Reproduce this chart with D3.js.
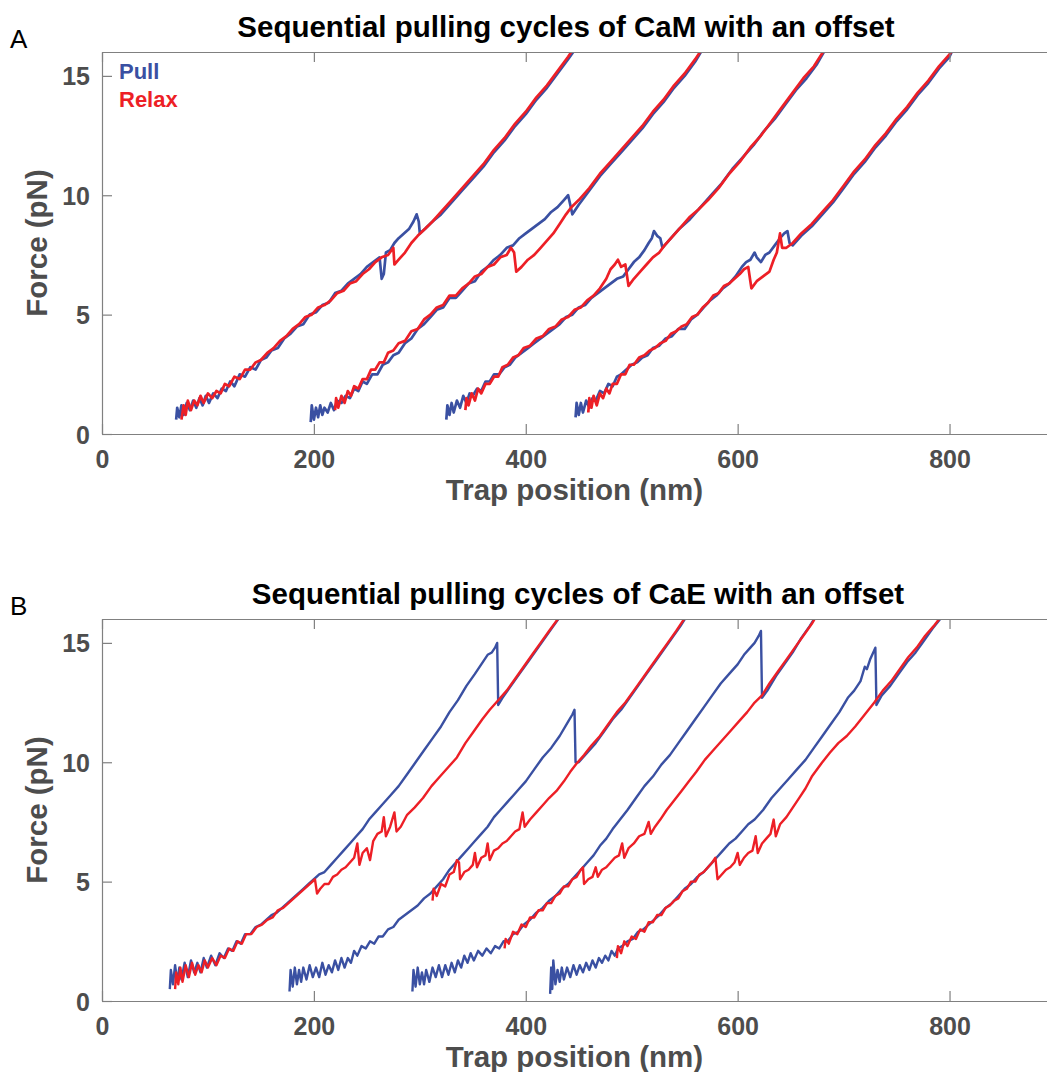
<!DOCTYPE html>
<html>
<head>
<meta charset="utf-8">
<script src="https://cdn.jsdelivr.net/npm/d3@7"></script>
<style>
body { margin: 0; background: #fff; }
svg { display: block; }
</style>
</head>
<body>
<div id="chart"></div>
<script>
// trap position (nm), force (pN)
var xTicks = [0, 200, 400, 600, 800];
var yTicks = [0, 5, 10, 15];
var legendLabels = ["Pull", "Relax"];
var panelTitles = ["Sequential pulling cycles of CaM with an offset", "Sequential pulling cycles of CaE with an offset"];
var panelLetters = ["A", "B"];

var camPull1 = [[70,0.6],[71,1.1],[73,0.7],[75,1.2],[77,0.8],[80,1.3],[83,1.0],[86,1.4],[89,1.1],[92,1.5],[95,1.2],[98,1.6],[101,1.3],[105,1.7],[109,1.5],[113,1.9],[117,1.8],[121,2.2],[125,2.0],[130,2.5],[135,2.4],[140,2.8],[145,2.7],[150,3.1],[155,3.2],[160,3.5],[166,3.6],[172,4.0],[178,4.2],[184,4.5],[190,4.6],[196,5.0],[202,5.1],[208,5.4],[214,5.5],[220,5.9],[226,6.0],[232,6.3],[238,6.5],[244,6.7],[250,7.0],[256,7.2],[262,7.4],[264,6.5],[266,6.7],[268,7.6],[272,7.7],[276,8.0],[280,8.2],[285,8.4],[290,8.6],[294,8.9],[297,9.2],[299,8.9],[300,8.4],[305,8.6],[312,8.9],[320,9.2],[330,9.7],[340,10.2],[350,10.7],[360,11.2],[370,11.8],[380,12.3],[390,12.9],[400,13.4],[410,14.0],[420,14.5],[430,15.1],[440,15.7],[448,16.2]];
var camRelax1 = [[75,0.6],[77,1.2],[79,0.8],[81,1.4],[84,1.0],[87,1.4],[90,1.2],[93,1.6],[96,1.3],[100,1.7],[104,1.5],[108,1.8],[112,1.7],[116,2.1],[120,2.0],[125,2.4],[130,2.3],[135,2.7],[140,2.7],[145,3.0],[150,3.1],[156,3.4],[162,3.6],[168,3.9],[174,4.1],[180,4.4],[186,4.6],[192,4.9],[198,5.0],[204,5.3],[210,5.4],[216,5.6],[222,5.9],[228,6.0],[234,6.3],[240,6.4],[246,6.7],[252,6.9],[258,7.2],[264,7.4],[270,7.5],[275,7.8],[276,7.1],[280,7.3],[286,7.6],[292,8.0],[298,8.3],[305,8.6],[312,8.9],[320,9.3],[330,9.8],[340,10.3],[350,10.8],[360,11.3],[370,11.9],[380,12.4],[390,13.0],[400,13.5],[410,14.1],[420,14.6],[430,15.2],[440,15.8],[446,16.2]];
var camPull2 = [[197,0.5],[198,1.2],[200,0.6],[202,1.1],[204,0.7],[206,1.2],[208,0.8],[210,1.1],[213,0.9],[216,1.3],[219,1.0],[222,1.4],[226,1.3],[230,1.6],[234,1.5],[238,1.9],[242,1.8],[246,2.2],[250,2.1],[255,2.5],[260,2.5],[265,2.9],[270,3.0],[275,3.3],[280,3.4],[286,3.8],[292,4.0],[298,4.4],[304,4.6],[310,4.9],[316,5.2],[322,5.3],[328,5.7],[334,5.7],[340,6.0],[346,6.3],[352,6.4],[358,6.8],[364,7.0],[370,7.3],[376,7.5],[382,7.8],[388,7.9],[394,8.2],[400,8.4],[406,8.6],[412,8.8],[418,9.0],[424,9.3],[430,9.5],[436,9.8],[440,10.0],[442,9.6],[444,9.2],[450,9.6],[460,10.2],[470,10.8],[480,11.3],[490,11.8],[500,12.3],[510,12.8],[520,13.4],[530,13.9],[540,14.5],[550,15.0],[560,15.6],[568,16.2]];
var camRelax2 = [[220,1.0],[221,1.5],[223,1.1],[226,1.6],[229,1.3],[232,1.8],[235,1.6],[238,2.0],[242,1.9],[246,2.3],[250,2.3],[254,2.7],[258,2.7],[262,3.0],[266,3.0],[270,3.4],[275,3.5],[280,3.8],[286,3.9],[292,4.3],[298,4.4],[304,4.8],[310,5.0],[316,5.3],[322,5.4],[328,5.8],[334,5.8],[340,6.1],[346,6.3],[352,6.6],[358,6.7],[364,7.0],[370,7.1],[376,7.4],[382,7.5],[386,7.8],[389,7.6],[391,6.8],[396,7.0],[402,7.3],[408,7.5],[414,7.8],[420,8.1],[426,8.4],[432,8.8],[438,9.2],[443,9.5],[450,9.8],[460,10.3],[470,10.9],[480,11.4],[490,11.9],[500,12.4],[510,12.9],[520,13.5],[530,14.0],[540,14.6],[550,15.1],[560,15.7],[566,16.1]];
var camPull3 = [[325,0.6],[326,1.2],[328,0.8],[330,1.3],[332,0.9],[335,1.4],[338,1.1],[341,1.6],[344,1.3],[347,1.7],[350,1.6],[354,1.9],[358,1.8],[362,2.2],[366,2.2],[370,2.5],[375,2.5],[380,2.8],[385,2.9],[390,3.2],[396,3.4],[402,3.6],[408,3.8],[414,4.0],[420,4.2],[426,4.4],[432,4.6],[438,4.9],[444,5.0],[450,5.3],[456,5.4],[462,5.7],[468,5.9],[474,6.1],[480,6.3],[486,6.5],[492,6.6],[497,6.9],[502,7.2],[507,7.4],[512,7.7],[516,8.0],[519,8.2],[521,8.5],[524,8.3],[527,8.2],[529,7.8],[535,8.1],[545,8.6],[555,9.0],[565,9.5],[575,10.0],[585,10.5],[595,11.1],[605,11.6],[615,12.1],[625,12.7],[635,13.2],[645,13.8],[655,14.4],[665,14.9],[675,15.5],[684,16.2]];
var camRelax3 = [[343,1.0],[344,1.5],[346,1.2],[349,1.7],[352,1.4],[355,1.9],[358,1.7],[362,2.1],[366,2.1],[370,2.4],[374,2.4],[378,2.8],[383,2.9],[388,3.2],[393,3.3],[398,3.6],[404,3.7],[410,4.0],[416,4.1],[422,4.4],[428,4.5],[434,4.8],[440,4.9],[446,5.2],[452,5.3],[458,5.6],[464,5.8],[470,6.1],[476,6.5],[480,6.9],[484,7.1],[487,7.3],[490,7.0],[494,7.1],[497,6.2],[502,6.5],[508,6.8],[514,7.1],[520,7.4],[526,7.6],[531,7.9],[539,8.3],[547,8.7],[555,9.1],[563,9.4],[572,9.8],[582,10.3],[592,10.9],[602,11.4],[612,12.0],[622,12.5],[632,13.1],[642,13.7],[652,14.3],[662,14.9],[672,15.4],[682,16.1]];
var camPull4 = [[447,0.7],[448,1.3],[450,0.8],[452,1.3],[454,0.9],[457,1.4],[460,1.1],[463,1.5],[466,1.4],[470,1.8],[474,1.7],[478,2.1],[482,2.0],[486,2.4],[490,2.5],[495,2.7],[500,2.9],[505,3.0],[510,3.2],[515,3.3],[520,3.6],[526,3.7],[532,4.0],[538,4.1],[544,4.4],[550,4.4],[556,4.8],[562,5.0],[568,5.3],[574,5.6],[580,5.8],[586,6.1],[592,6.3],[598,6.6],[604,7.0],[608,7.2],[612,7.3],[616,7.6],[618,7.4],[622,7.2],[626,7.5],[630,7.6],[635,7.9],[640,8.2],[644,8.4],[647,8.5],[649,8.0],[652,7.9],[660,8.3],[670,8.7],[680,9.2],[690,9.7],[700,10.3],[710,10.9],[720,11.4],[730,12.0],[740,12.5],[750,13.1],[760,13.6],[770,14.2],[780,14.7],[790,15.3],[800,15.8],[804,16.2]];
var camRelax4 = [[459,0.9],[460,1.5],[462,1.1],[464,1.6],[467,1.2],[470,1.7],[473,1.5],[476,1.9],[479,1.7],[482,2.1],[486,2.1],[490,2.5],[494,2.5],[498,2.9],[502,2.9],[507,3.2],[512,3.3],[517,3.5],[522,3.6],[527,3.8],[532,3.9],[537,4.2],[542,4.3],[547,4.5],[552,4.6],[557,4.9],[562,5.0],[567,5.3],[572,5.5],[577,5.8],[582,5.9],[587,6.2],[592,6.3],[597,6.5],[602,6.7],[606,6.9],[610,7.0],[612,6.4],[613,6.1],[618,6.4],[624,6.6],[630,6.8],[634,7.3],[637,7.6],[640,8.4],[642,7.8],[646,7.8],[652,8.0],[660,8.4],[670,8.8],[680,9.3],[690,9.8],[700,10.4],[710,11.0],[720,11.5],[730,12.1],[740,12.6],[750,13.2],[760,13.7],[770,14.3],[780,14.8],[790,15.4],[800,15.9],[803,16.1]];

var caePull1 = [[64,0.5],[65,1.3],[67,0.7],[69,1.5],[71,0.8],[73,1.4],[75,0.9],[78,1.6],[81,1.0],[84,1.7],[87,1.2],[90,1.6],[93,1.2],[96,1.8],[99,1.4],[103,1.9],[107,1.5],[111,2.0],[115,1.8],[119,2.2],[123,2.1],[127,2.5],[131,2.4],[135,2.8],[140,2.8],[145,3.1],[150,3.2],[155,3.4],[160,3.6],[165,3.7],[170,3.9],[175,4.1],[180,4.3],[185,4.5],[190,4.7],[195,4.9],[200,5.1],[205,5.3],[210,5.4],[216,5.7],[222,6.0],[228,6.3],[234,6.6],[240,6.9],[246,7.2],[252,7.6],[258,7.9],[264,8.2],[272,8.6],[280,9.0],[288,9.5],[296,10.0],[304,10.5],[312,11.0],[320,11.5],[328,12.1],[336,12.6],[344,13.2],[352,13.7],[358,14.1],[364,14.5],[368,14.6],[371,14.8],[373,15.0],[374,12.4],[378,12.7],[386,13.2],[394,13.7],[402,14.2],[410,14.7],[418,15.2],[426,15.7],[434,16.2]];
var caeRelax1 = [[69,0.5],[70,1.2],[72,0.7],[74,1.4],[76,0.8],[79,1.5],[82,1.0],[85,1.6],[88,1.1],[91,1.5],[94,1.2],[97,1.7],[100,1.4],[104,1.8],[108,1.5],[112,1.9],[116,1.8],[120,2.2],[124,2.1],[128,2.5],[132,2.4],[136,2.8],[141,2.8],[146,3.1],[151,3.2],[156,3.4],[161,3.5],[166,3.8],[171,3.9],[176,4.1],[181,4.3],[186,4.5],[191,4.7],[196,4.9],[201,5.1],[203,4.5],[206,4.7],[210,4.9],[214,4.9],[218,5.2],[222,5.3],[226,5.5],[230,5.6],[234,5.8],[238,6.0],[241,6.6],[243,5.7],[246,6.2],[250,6.4],[253,5.9],[256,6.7],[260,7.0],[264,7.1],[266,7.7],[268,6.9],[272,7.3],[276,7.9],[278,7.1],[282,7.3],[288,7.8],[295,8.1],[303,8.5],[311,9.0],[319,9.4],[327,9.8],[335,10.2],[343,10.8],[351,11.3],[359,11.8],[366,12.2],[374,12.6],[382,13.0],[390,13.5],[398,14.0],[406,14.5],[414,15.0],[422,15.5],[432,16.1]];
var caePull2 = [[177,0.4],[178,1.3],[180,0.6],[182,1.4],[184,0.7],[186,1.3],[188,0.8],[190,1.4],[193,0.9],[196,1.5],[199,1.0],[202,1.4],[205,1.0],[208,1.6],[211,1.1],[214,1.5],[217,1.2],[220,1.7],[223,1.3],[226,1.8],[229,1.4],[232,1.8],[235,1.6],[238,2.1],[241,1.9],[245,2.3],[249,2.2],[253,2.5],[257,2.4],[261,2.7],[265,2.7],[270,3.0],[275,3.1],[280,3.4],[286,3.6],[292,3.8],[298,4.0],[304,4.3],[310,4.5],[316,4.8],[322,5.1],[328,5.5],[334,5.8],[340,6.1],[346,6.4],[352,6.7],[358,7.0],[364,7.3],[370,7.7],[376,8.0],[382,8.3],[388,8.6],[394,8.9],[400,9.2],[408,9.7],[416,10.2],[424,10.6],[432,11.1],[440,11.7],[444,12.0],[446,12.2],[447,10.0],[450,10.0],[458,10.4],[466,10.8],[474,11.3],[482,11.8],[490,12.2],[498,12.7],[506,13.2],[514,13.7],[522,14.2],[530,14.7],[538,15.2],[546,15.7],[553,16.2]];
var caeRelax2 = [[312,4.2],[313,4.7],[316,4.4],[320,4.9],[324,4.8],[328,5.3],[332,5.4],[335,5.9],[337,5.8],[338,5.1],[342,5.4],[346,5.5],[350,5.7],[352,6.2],[354,5.6],[358,6.0],[362,6.1],[364,6.6],[366,5.9],[370,6.3],[374,6.4],[378,6.6],[382,6.7],[386,6.9],[390,7.1],[394,7.2],[397,7.9],[399,7.3],[404,7.6],[410,7.9],[416,8.2],[422,8.5],[429,8.8],[436,9.2],[442,9.6],[448,9.95],[455,10.3],[462,10.7],[470,11.1],[478,11.6],[486,12.1],[494,12.5],[502,13.0],[510,13.5],[518,14.0],[526,14.5],[534,15.0],[542,15.5],[551,16.1]];
var caePull3 = [[293,0.4],[294,1.3],[296,0.6],[298,1.4],[300,0.7],[302,1.2],[304,0.7],[306,1.3],[309,0.8],[312,1.4],[315,1.0],[318,1.5],[321,1.0],[324,1.5],[327,1.1],[330,1.6],[333,1.2],[336,1.7],[339,1.4],[342,1.9],[345,1.6],[348,2.0],[351,1.7],[355,2.1],[359,1.9],[363,2.2],[367,2.0],[371,2.3],[375,2.2],[379,2.5],[383,2.5],[388,2.8],[393,2.9],[398,3.2],[404,3.4],[410,3.7],[416,3.9],[422,4.2],[428,4.4],[434,4.7],[440,4.9],[446,5.2],[452,5.5],[458,5.8],[464,6.1],[470,6.5],[476,6.8],[482,7.2],[489,7.6],[496,8.0],[504,8.5],[512,9.0],[520,9.4],[528,9.9],[536,10.3],[544,10.8],[552,11.3],[560,11.8],[568,12.3],[576,12.8],[584,13.3],[592,13.7],[600,14.1],[606,14.5],[612,14.8],[616,15.0],[620,15.3],[622,15.5],[623,12.7],[628,13.0],[636,13.6],[644,14.1],[652,14.6],[660,15.2],[668,15.7],[675,16.2]];
var caeRelax3 = [[380,2.2],[381,2.6],[384,2.4],[388,2.9],[392,2.8],[396,3.2],[400,3.1],[404,3.5],[408,3.5],[412,3.8],[416,3.8],[420,4.1],[424,4.1],[428,4.4],[432,4.5],[436,4.8],[440,4.8],[444,5.1],[448,5.2],[452,5.5],[454,5.6],[455,4.9],[459,5.1],[463,5.2],[466,5.6],[468,5.2],[472,5.5],[476,5.6],[480,5.8],[484,6.0],[488,6.1],[491,6.6],[493,6.0],[497,6.4],[502,6.6],[507,6.9],[512,7.0],[516,7.5],[518,7.0],[522,7.3],[527,7.6],[533,8.0],[540,8.4],[547,8.8],[554,9.2],[561,9.6],[569,10.1],[577,10.5],[585,10.9],[593,11.3],[601,11.7],[609,12.1],[616,12.5],[623,12.8],[630,13.3],[638,13.8],[646,14.3],[654,14.8],[662,15.3],[670,15.8],[674,16.1]];
var caePull4 = [[423,0.3],[424,1.4],[425,0.5],[426,1.7],[428,0.7],[430,1.3],[432,0.8],[434,1.4],[436,0.9],[439,1.4],[442,1.0],[445,1.5],[448,1.1],[451,1.5],[454,1.2],[457,1.6],[460,1.3],[463,1.7],[466,1.4],[469,1.8],[472,1.6],[475,1.9],[478,1.7],[481,2.1],[484,1.9],[487,2.2],[491,2.3],[496,2.5],[501,2.6],[506,2.9],[511,3.0],[516,3.2],[521,3.4],[526,3.6],[532,3.9],[538,4.1],[544,4.4],[550,4.7],[556,4.9],[562,5.2],[568,5.4],[574,5.7],[580,6.0],[586,6.3],[592,6.6],[598,6.8],[604,7.1],[610,7.4],[616,7.6],[624,8.0],[632,8.5],[640,8.9],[648,9.3],[656,9.7],[664,10.1],[672,10.6],[680,11.1],[688,11.6],[696,12.1],[704,12.7],[710,13.0],[716,13.4],[720,14.0],[722,13.9],[725,14.3],[728,14.6],[730,14.8],[731,12.4],[736,12.8],[744,13.2],[752,13.7],[760,14.2],[768,14.6],[776,15.1],[784,15.6],[793,16.1]];
var caeRelax4 = [[486,1.8],[487,2.3],[490,2.0],[493,2.5],[496,2.3],[500,2.7],[504,2.6],[508,3.0],[512,2.9],[516,3.3],[520,3.3],[524,3.6],[528,3.6],[532,3.9],[536,4.0],[540,4.2],[544,4.3],[548,4.6],[552,4.7],[556,5.0],[560,5.0],[564,5.3],[568,5.4],[572,5.6],[576,5.8],[579,6.0],[581,5.1],[585,5.3],[589,5.5],[593,5.6],[597,5.8],[600,6.2],[602,5.7],[606,6.0],[610,6.2],[614,6.3],[617,6.9],[619,6.2],[623,6.6],[627,6.8],[631,7.0],[634,7.6],[636,6.9],[640,7.4],[646,7.7],[652,8.1],[658,8.5],[664,8.9],[670,9.4],[679,9.95],[687,10.4],[695,10.8],[703,11.1],[711,11.5],[720,12.0],[729,12.5],[737,13.0],[745,13.4],[753,13.9],[761,14.4],[769,14.8],[777,15.3],[785,15.7],[792,16.1]];

var pullColor = "#3a50a2";
var relaxColor = "#ed1f26";
var axisGray = "#4d4d4d";
var fontFamily = "'Liberation Sans', Arial, Helvetica, sans-serif";

var svg = d3.select("#chart").append("svg")
	.attr("width", 1047)
	.attr("height", 1072);

function drawPanel(cfg) {
	var x = d3.scaleLinear().domain([0, 892]).range([102, 1047]);
	var y = d3.scaleLinear().domain([0, 16]).range([cfg.bottom, cfg.top]);

	var g = svg.append("g");
	var clipId = "clip" + cfg.letter;
	g.append("clipPath").attr("id", clipId)
		.append("rect")
		.attr("x", x.range()[0]).attr("y", cfg.top)
		.attr("width", x.range()[1] - x.range()[0]).attr("height", cfg.bottom - cfg.top);

	var line = d3.line().x(function(d){ return x(d[0]); }).y(function(d){ return y(d[1]); });
	var traces = g.append("g").attr("clip-path", "url(#" + clipId + ")");
	cfg.cycles.forEach(function(cycle){
		traces.append("path").datum(cycle.pull)
			.attr("d", line).attr("fill", "none")
			.attr("stroke", pullColor).attr("stroke-width", cfg.lineWidth).attr("stroke-linejoin", "round");
		traces.append("path").datum(cycle.relax)
			.attr("d", line).attr("fill", "none")
			.attr("stroke", relaxColor).attr("stroke-width", cfg.lineWidth).attr("stroke-linejoin", "round");
	});

	// box with inward ticks, matlab style
	var bottomAxis = d3.axisBottom(x).tickValues(xTicks).tickSizeInner(-10).tickSizeOuter(0).tickPadding(16);
	var topAxis = d3.axisTop(x).tickValues(xTicks).tickSizeInner(-10).tickSizeOuter(0).tickFormat("");
	var leftAxis = d3.axisLeft(y).tickValues(yTicks).tickSizeInner(-10).tickSizeOuter(0).tickPadding(12);

	var gb = g.append("g").attr("transform", "translate(0," + cfg.bottom + ")").call(bottomAxis);
	var gt = g.append("g").attr("transform", "translate(0," + cfg.top + ")").call(topAxis);
	var gl = g.append("g").attr("transform", "translate(" + x.range()[0] + ",0)").call(leftAxis);

	[gb, gt, gl].forEach(function(ax){
		ax.select(".domain").attr("stroke", "#808080").attr("stroke-width", 1.2);
		ax.selectAll(".tick line").attr("stroke", "#808080").attr("stroke-width", 1.2);
		ax.selectAll(".tick text")
			.attr("fill", axisGray)
			.style("font-family", fontFamily)
			.style("font-weight", "bold")
			.style("font-size", "25px");
	});
	gb.selectAll(".tick text").attr("dy", "0.71em");
	gl.selectAll(".tick text").attr("dy", "0.36em");

	g.append("text")
		.attr("x", cfg.titleX).attr("y", cfg.top - 15)
		.attr("text-anchor", "middle")
		.style("font-family", fontFamily).style("font-weight", "bold").style("font-size", "29.5px")
		.attr("fill", "#000")
		.text(cfg.title);

	g.append("text")
		.attr("x", 10).attr("y", cfg.top - 4)
		.style("font-family", fontFamily).style("font-size", "26px")
		.attr("fill", "#000")
		.text(cfg.letter);

	g.append("text")
		.attr("x", (x.range()[0] + x.range()[1]) / 2).attr("y", cfg.bottom + 66)
		.attr("text-anchor", "middle")
		.style("font-family", fontFamily).style("font-weight", "bold").style("font-size", "29.5px")
		.attr("fill", axisGray)
		.text("Trap position (nm)");

	g.append("text")
		.attr("transform", "translate(47," + (cfg.top + cfg.bottom) / 2 + ") rotate(-90)")
		.attr("text-anchor", "middle")
		.style("font-family", fontFamily).style("font-weight", "bold").style("font-size", "29.5px")
		.attr("fill", axisGray)
		.text("Force (pN)");

	if (cfg.legend) {
		[pullColor, relaxColor].forEach(function(c, i){
			g.append("text")
				.attr("x", 119).attr("y", cfg.top + 27 + i * 28)
				.style("font-family", fontFamily).style("font-weight", "bold").style("font-size", "22px")
				.attr("fill", c)
				.text(legendLabels[i]);
		});
	}
}

drawPanel({
	letter: panelLetters[0], title: panelTitles[0], titleX: 566,
	top: 52, bottom: 434, legend: true, lineWidth: 2.7,
	cycles: [
		{pull: camPull1, relax: camRelax1},
		{pull: camPull2, relax: camRelax2},
		{pull: camPull3, relax: camRelax3},
		{pull: camPull4, relax: camRelax4}
	]
});

drawPanel({
	letter: panelLetters[1], title: panelTitles[1], titleX: 578,
	top: 619, bottom: 1001, legend: false, lineWidth: 2.4,
	cycles: [
		{pull: caePull1, relax: caeRelax1},
		{pull: caePull2, relax: caeRelax2},
		{pull: caePull3, relax: caeRelax3},
		{pull: caePull4, relax: caeRelax4}
	]
});
</script>
</body>
</html>
